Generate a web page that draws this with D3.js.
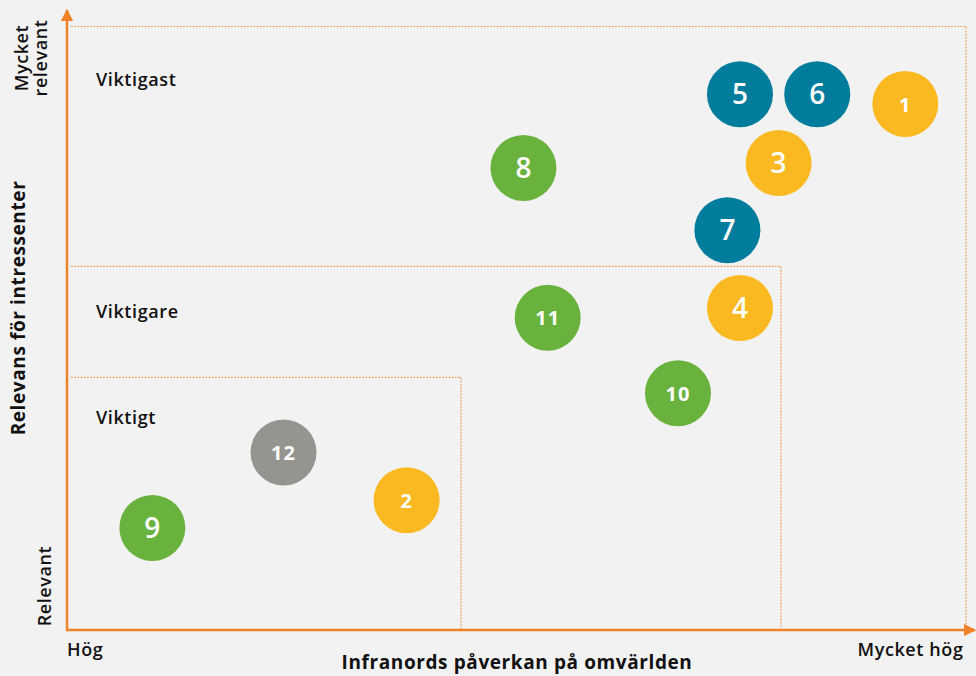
<!DOCTYPE html>
<html>
<head>
<meta charset="utf-8">
<script src="https://cdn.jsdelivr.net/npm/d3@7"></script>
<style>
  html, body { margin: 0; padding: 0; background: #F2F2F2; }
  text { font-family: "Open Sans", "Noto Sans", sans-serif; }
</style>
</head>
<body>
<div id="chart"></div>
<script>
// bubble data (x = påverkan, y = relevans, both 0..10)
const ids     = [1, 2, 3, 4, 5, 6, 7, 8, 9, 10, 11, 12];
const xValues = [9.33, 3.78, 7.92, 7.49, 7.49, 8.35, 7.35, 5.08, 0.95, 6.80, 5.35, 2.41];
const yValues = [8.71, 2.15, 7.73, 5.33, 8.87, 8.87, 6.62, 7.65, 1.69, 3.92, 5.17, 2.94];
const groups  = ['gul', 'gul', 'gul', 'gul', 'bla', 'bla', 'bla', 'gron', 'gron', 'gron', 'gron', 'gra'];

// zones: upper right corner of each box (x, y)
const zoneNames = ['Viktigast', 'Viktigare', 'Viktigt'];
const zoneX     = [10, 7.94, 4.38];
const zoneY     = [10, 6.03, 4.19];

const xTickLabels = ['Hög', 'Mycket hög'];
const yTickLabels = [['Relevant'], ['Mycket', 'relevant']];

const W = 976, H = 676;
const plotLeft = 67, plotRight = 965.5, plotTop = 26, plotBottom = 630;
const axisColor = '#F08228';
const colors = {gul: '#FBB921', bla: '#007C9C', gron: '#6AB23E', gra: '#959590'};
const labelSize = 18, titleSize = 19, spacing = '0.6px';

const svg = d3.select('#chart').append('svg')
    .attr('width', W).attr('height', H)
    .style('display', 'block');

svg.append('rect').attr('width', W).attr('height', H).attr('fill', '#F2F2F2');

const x = d3.scaleLinear().domain([0, 10]).range([plotLeft, plotRight]);
const y = d3.scaleLinear().domain([0, 10]).range([plotBottom, plotTop]);

// dotted zone boxes
zoneNames.forEach((name, i) => {
    const zx = x(zoneX[i]), zy = y(zoneY[i]);
    svg.append('path')
        .attr('d', `M${plotLeft + 4},${zy + 0.5}H${zx + 0.5}V${plotBottom}`)
        .attr('fill', 'none')
        .attr('stroke', axisColor)
        .attr('stroke-width', 1.2)
        .attr('stroke-dasharray', '1.6,1.6')
        .attr('opacity', 0.85);
});

// axes with arrows
const defs = svg.append('defs');
defs.append('marker')
    .attr('id', 'arrow')
    .attr('viewBox', '0 0 10 10')
    .attr('refX', 9).attr('refY', 5)
    .attr('markerWidth', 5).attr('markerHeight', 5)
    .attr('markerUnits', 'strokeWidth')
    .attr('orient', 'auto')
    .append('path').attr('d', 'M0,0L10,5L0,10Z').attr('fill', axisColor);

svg.append('line')
    .attr('x1', plotLeft).attr('y1', plotBottom + 1)
    .attr('x2', plotLeft).attr('y2', 10)
    .attr('stroke', axisColor).attr('stroke-width', 2.5)
    .attr('marker-end', 'url(#arrow)');

svg.append('line')
    .attr('x1', plotLeft - 1).attr('y1', plotBottom)
    .attr('x2', W - 1).attr('y2', plotBottom)
    .attr('stroke', axisColor).attr('stroke-width', 2.5)
    .attr('marker-end', 'url(#arrow)');

function label(sel, size, weight) {
    return sel.attr('font-size', size)
        .attr('font-weight', weight)
        .attr('letter-spacing', spacing)
        .attr('fill', '#111');
}

// zone labels
zoneNames.forEach((name, i) => {
    const ly = [80, 312, 418][i];
    label(svg.append('text'), labelSize, 600)
        .attr('x', 96).attr('y', ly)
        .attr('dy', '0.35em')
        .text(name);
});

// x tick labels
label(svg.append('text'), labelSize, 600)
    .attr('x', plotLeft).attr('y', 650)
    .attr('dy', '0.35em')
    .text(xTickLabels[0]);
label(svg.append('text'), labelSize, 600)
    .attr('x', plotRight - 2).attr('y', 650)
    .attr('dy', '0.35em').attr('text-anchor', 'end')
    .text(xTickLabels[1]);

// x title
label(svg.append('text'), titleSize, 700)
    .attr('x', 517).attr('y', 662)
    .attr('dy', '0.35em').attr('text-anchor', 'middle')
    .text('Infranords påverkan på omvärlden');

// y tick labels (rotated)
label(svg.append('text'), labelSize, 600)
    .attr('transform', 'translate(45,586) rotate(-90)')
    .attr('text-anchor', 'middle').attr('dy', '0.35em')
    .text(yTickLabels[0][0]);

const yHigh = label(svg.append('text'), labelSize, 600)
    .attr('transform', 'translate(33,58) rotate(-90)')
    .attr('text-anchor', 'middle');
yHigh.selectAll('tspan')
    .data(yTickLabels[1])
    .join('tspan')
    .attr('x', 0)
    .attr('y', (d, i) => i === 0 ? -5 : 14)
    .text(d => d);

// y title
label(svg.append('text'), titleSize, 700)
    .attr('transform', 'translate(18,308) rotate(-90)')
    .attr('text-anchor', 'middle').attr('dy', '0.35em')
    .text('Relevans för intressenter');

// bubbles
const data = ids.map((id, i) => ({id, x: xValues[i], y: yValues[i], g: groups[i]}));

const bubble = svg.selectAll('.bubble')
    .data(data)
    .join('g')
    .attr('class', 'bubble')
    .attr('transform', d => `translate(${x(d.x)},${y(d.y)})`);

bubble.append('circle')
    .attr('r', 33)
    .attr('fill', d => colors[d.g]);

// small (x-height) digits for 1, 2, 10, 11, 12 like old-style figures
const small = d => /^[012]+$/.test(String(d.id));
bubble.append('text')
    .attr('text-anchor', 'middle')
    .attr('dy', d => small(d) ? '0.38em' : '0.36em')
    .attr('font-size', d => small(d) ? 20 : 28)
    .attr('font-weight', d => small(d) ? 700 : 600)
    .attr('letter-spacing', d => small(d) ? '1px' : null)
    .attr('fill', '#fff')
    .text(d => d.id);
</script>
</body>
</html>
